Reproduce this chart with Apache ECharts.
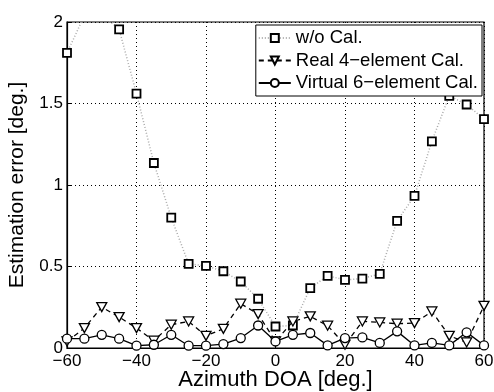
<!DOCTYPE html>
<html><head><meta charset="utf-8">
<script src="https://cdn.jsdelivr.net/npm/echarts@6/dist/echarts.min.js"></script>
<style>html,body{margin:0;padding:0;background:#fff}#c{width:494px;height:392px}</style>
</head><body><div id="c"></div>
<script>
const azimuth = [-60,-55,-50,-45,-40,-35,-30,-25,-20,-15,-10,-5,0,5,10,15,20,25,30,35,40,45,50,55,60];
const woCal = [1.81,2.04,2.05,1.955,1.56,1.135,0.80,0.516,0.504,0.471,0.408,0.302,0.132,0.138,0.367,0.443,0.418,0.426,0.455,0.78,0.933,1.268,1.547,1.494,1.404];
const real4 = [0.04,0.122,0.251,0.19,0.122,0.045,0.143,0.163,0.075,0.118,0.272,0.208,0.04,0.163,0.194,0.137,0.02,0.163,0.157,0.149,0.153,0.224,0.075,0.034,0.259];
const virt6 = [0.057,0.057,0.081,0.057,0.014,0.02,0.081,0.014,0.014,0.024,0.061,0.138,0.04,0.081,0.092,0.016,0.061,0.065,0.031,0.102,0.016,0.031,0.016,0.096,0.016];
const xTicks = [-60,-40,-20,0,20,40,60];
const yTicks = [0,0.5,1,1.5,2];
const seriesNames = ['w/o Cal.','Real 4\u2212element Cal.','Virtual 6\u2212element Cal.'];

const pair = (ys) => azimuth.map((x,i)=>[x,ys[i]]);
const FONT = 'Liberation Sans, Arial, sans-serif';
const chart = echarts.init(document.getElementById('c'), null, {renderer:'canvas'});
const tri = 'path://M0,0 L10,0 L5,9 Z';
chart.setOption({
  animation:false,
  backgroundColor:'#fff',
  grid:{left:67,right:10,top:22,bottom:44,show:true,borderColor:'#000',borderWidth:1.2,backgroundColor:'transparent',
    containLabel:false,outerBoundsMode:'none'},
  xAxis:{type:'value',min:-60,max:60,interval:20,
    axisLine:{show:true,onZero:false,lineStyle:{color:'#000',width:1.2}},
    axisTick:{show:true,inside:true,length:4,lineStyle:{color:'#000'}},
    axisLabel:{color:'#000',fontFamily:FONT,fontSize:17,margin:5,formatter:v=>xTicks.includes(v)?String(v).replace('-','\u2212'):''},
    splitLine:{show:true,lineStyle:{color:'#000',type:[1,3],width:1}},
    name:'Azimuth DOA [deg.]',nameLocation:'middle',nameGap:21,nameMoveOverlap:false,
    nameTextStyle:{color:'#000',fontFamily:FONT,fontSize:22}},
  yAxis:{type:'value',min:0,max:2,interval:0.5,
    axisLine:{show:true,onZero:false,lineStyle:{color:'#000',width:1.2}},
    axisTick:{show:true,inside:true,length:4,lineStyle:{color:'#000'}},
    axisLabel:{color:'#000',fontFamily:FONT,fontSize:17,margin:4,formatter:v=>yTicks.includes(v)?String(v):''},
    splitLine:{show:true,lineStyle:{color:'#000',type:[1,3],width:1}},
    name:'Estimation error [deg.]',nameLocation:'middle',nameGap:39,nameMoveOverlap:false,
    nameTextStyle:{color:'#000',fontFamily:FONT,fontSize:21}},
  legend:{show:true,orient:'vertical',right:12,top:25,itemGap:2.5,itemWidth:32,itemHeight:10,
    padding:[3,4,3,2],backgroundColor:'#fff',borderColor:'#000',borderWidth:1,
    textStyle:{color:'#000',fontFamily:FONT,fontSize:18.5,lineHeight:20},
    data:seriesNames},
  series:[
    {name:seriesNames[0],type:'line',data:pair(woCal),clip:true,
      symbol:'rect',symbolSize:8,
      lineStyle:{color:'#aaa',width:1.5,type:[1,2]},
      itemStyle:{color:'#fff',borderColor:'#000',borderWidth:1.8},z:3},
    {name:seriesNames[1],type:'line',data:pair(real4),clip:true,
      symbol:tri,symbolSize:[10,9],
      lineStyle:{color:'#000',width:1.3,type:[5,4]},
      itemStyle:{color:'#fff',borderColor:'#000',borderWidth:1.3},z:4},
    {name:seriesNames[2],type:'line',data:pair(virt6),clip:true,
      symbol:'circle',symbolSize:9,
      lineStyle:{color:'#000',width:1.3},
      itemStyle:{color:'#fff',borderColor:'#000',borderWidth:1.3},z:5}
  ]
});
</script></body></html>
